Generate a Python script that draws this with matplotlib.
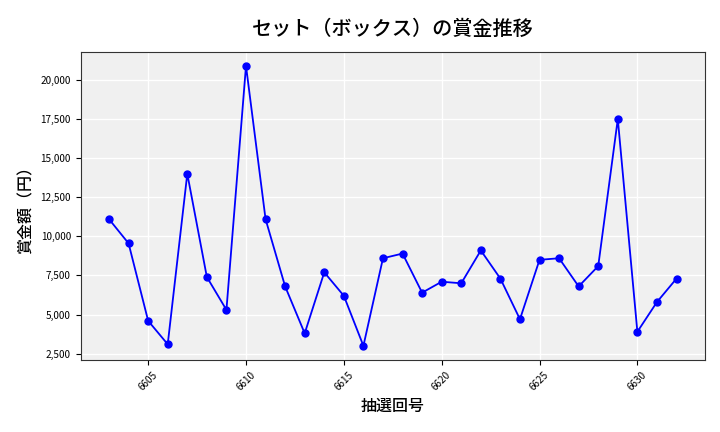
import matplotlib
matplotlib.use("Agg")
import matplotlib.pyplot as plt
from matplotlib.ticker import FuncFormatter

plt.rcParams['font.family'] = ['Noto Sans CJK JP', 'DejaVu Sans']

draws = list(range(6603, 6633))
prizes = [11100, 9550, 4600, 3100, 14000, 7400, 5300, 20900, 11100, 6800,
          3800, 7700, 6200, 3000, 8600, 8900, 6400, 7100, 7000, 9100,
          7300, 4700, 8500, 8600, 6800, 8100, 17500, 3900, 5800, 7300]

fig, ax = plt.subplots(figsize=(7.2, 4.32), dpi=100)
ax.set_facecolor('#f0f0f0')
ax.grid(True, color='white', linewidth=1.0)
ax.set_axisbelow(True)

ax.plot(draws, prizes, color='blue', marker='o', markersize=5, linewidth=1.3)

ax.set_title('セット（ボックス）の賞金推移', fontsize=14.5, fontweight='medium', pad=12)
ax.set_xlabel('抽選回号', fontsize=11.5, fontweight='medium')
ax.set_ylabel('賞金額（円）', fontsize=11.5, fontweight='medium')
ax.yaxis.set_major_formatter(FuncFormatter(lambda v, p: f'{int(v):,}'))
ax.tick_params(axis='both', labelsize=7.2)
plt.setp(ax.get_xticklabels(), rotation=45)
for s in ax.spines.values():
    s.set_color('#333333')

fig.subplots_adjust(left=0.112, right=0.979, top=0.88, bottom=0.167)
fig.savefig('out.png', dpi=100)
